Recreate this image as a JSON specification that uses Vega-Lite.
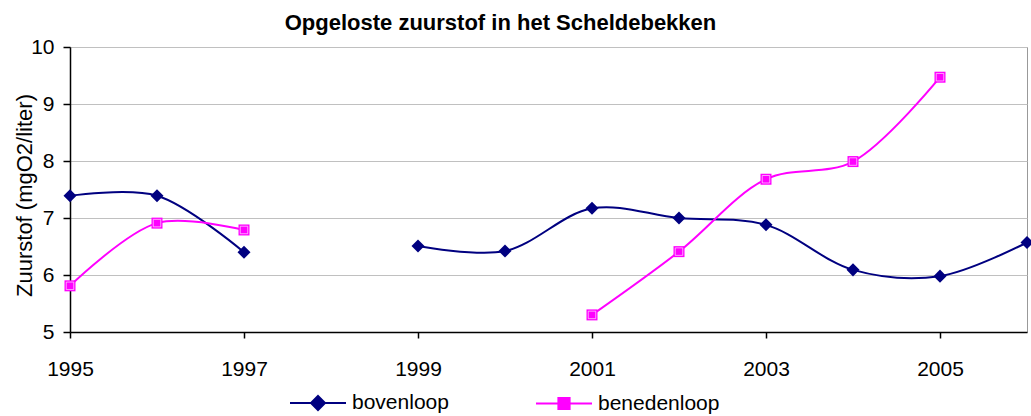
{
  "$schema": "https://vega.github.io/schema/vega-lite/v6.json",
  "width": 957,
  "height": 285,
  "autosize": "none",
  "padding": {"left": 70, "top": 47, "right": 4, "bottom": 84},
  "background": "white",
  "config": {
    "font": "Liberation Sans",
    "view": {"stroke": "#999999", "strokeWidth": 1}
  },
  "title": {
    "text": "Opgeloste zuurstof in het Scheldebekken",
    "fontSize": 22,
    "fontWeight": "bold",
    "font": "Liberation Sans",
    "color": "black",
    "anchor": "middle",
    "frame": "group",
    "dx": -48,
    "baseline": "alphabetic",
    "offset": -16
  },
  "data": {
    "values": [
      {"year": 1995, "value": 7.39, "series": "bovenloop", "seg": "b1"},
      {"year": 1996, "value": 7.39, "series": "bovenloop", "seg": "b1"},
      {"year": 1997, "value": 6.40, "series": "bovenloop", "seg": "b1"},
      {"year": 1999, "value": 6.51, "series": "bovenloop", "seg": "b2"},
      {"year": 2000, "value": 6.42, "series": "bovenloop", "seg": "b2"},
      {"year": 2001, "value": 7.17, "series": "bovenloop", "seg": "b2"},
      {"year": 2002, "value": 7.00, "series": "bovenloop", "seg": "b2"},
      {"year": 2003, "value": 6.88, "series": "bovenloop", "seg": "b2"},
      {"year": 2004, "value": 6.09, "series": "bovenloop", "seg": "b2"},
      {"year": 2005, "value": 5.98, "series": "bovenloop", "seg": "b2"},
      {"year": 2006, "value": 6.57, "series": "bovenloop", "seg": "b2"},
      {"year": 1995, "value": 5.81, "series": "benedenloop", "seg": "d1"},
      {"year": 1996, "value": 6.91, "series": "benedenloop", "seg": "d1"},
      {"year": 1997, "value": 6.79, "series": "benedenloop", "seg": "d1"},
      {"year": 2001, "value": 5.30, "series": "benedenloop", "seg": "d2"},
      {"year": 2002, "value": 6.41, "series": "benedenloop", "seg": "d2"},
      {"year": 2003, "value": 7.68, "series": "benedenloop", "seg": "d2"},
      {"year": 2004, "value": 7.99, "series": "benedenloop", "seg": "d2"},
      {"year": 2005, "value": 9.47, "series": "benedenloop", "seg": "d2"}
    ]
  },
  "encoding": {
    "x": {
      "field": "year",
      "type": "quantitative",
      "scale": {"domain": [1995, 2006], "nice": false, "zero": false},
      "axis": {
        "values": [1995, 1997, 1999, 2001, 2003, 2005],
        "format": "d",
        "grid": false,
        "title": null,
        "domainColor": "black",
        "domainWidth": 1.5,
        "tickColor": "black",
        "tickWidth": 1.5,
        "tickSize": 6,
        "labelFontSize": 21,
        "labelColor": "black",
        "labelPadding": 20,
        "labelFlush": false
      }
    },
    "y": {
      "field": "value",
      "type": "quantitative",
      "scale": {"domain": [5, 10], "nice": false, "zero": false},
      "axis": {
        "values": [5, 6, 7, 8, 9, 10],
        "grid": true,
        "gridColor": "#c0c0c0",
        "gridWidth": 1,
        "domainColor": "black",
        "domainWidth": 1.5,
        "tickColor": "black",
        "tickWidth": 1.5,
        "tickSize": 7,
        "labelFontSize": 21,
        "labelColor": "black",
        "labelPadding": 9,
        "title": "Zuurstof (mgO2/liter)",
        "titleFontSize": 22,
        "titleFontWeight": "normal",
        "titleColor": "black",
        "titleAngle": -90,
        "titleX": -46,
        "titleY": 148,
        "titleAlign": "center",
        "titleBaseline": "middle"
      }
    },
    "color": {
      "field": "series",
      "type": "nominal",
      "scale": {"domain": ["bovenloop", "benedenloop"], "range": ["#000080", "#ff00ff"]},
      "legend": {
        "title": null,
        "orient": "none",
        "legendX": 219,
        "legendY": 327,
        "direction": "horizontal",
        "padding": 0,
        "symbolSize": 3136,
        "symbolType": "M-1,0H1M0,-0.25L0.25,0L0,0.25L-0.25,0Z",
        "symbolStrokeWidth": 2,
        "labelFontSize": 21,
        "labelColor": "black",
        "labelOffset": 5,
        "columnPadding": 83,
        "encode": {
          "symbols": {
            "update": {
              "shape": {"signal": "datum.value == 'bovenloop' ? 'M-1,0H1M0,-0.25L0.25,0L0,0.25L-0.25,0Z' : 'M-1,0H1M-0.2,-0.2H0.2V0.2H-0.2Z'"},
              "fill": {"signal": "datum.value == 'bovenloop' ? '#000080' : '#ff00ff'"},
              "stroke": {"signal": "datum.value == 'bovenloop' ? '#000080' : '#ff00ff'"},
              "strokeWidth": {"value": 2},
              "opacity": {"value": 1},
              "fillOpacity": {"value": 1}
            }
          }
        }
      }
    }
  },
  "layer": [
    {
      "mark": {"type": "line", "interpolate": "catmull-rom", "strokeWidth": 2},
      "encoding": {"detail": {"field": "seg", "type": "nominal"}}
    },
    {
      "transform": [{"filter": "datum.series == 'bovenloop'"}],
      "mark": {"type": "point", "filled": true, "opacity": 1, "shape": "diamond", "size": 170}
    },
    {
      "transform": [{"filter": "datum.series == 'benedenloop'"}],
      "mark": {"type": "point", "filled": true, "opacity": 1, "shape": "square", "size": 121}
    },
    {
      "transform": [{"filter": "datum.series == 'benedenloop'"}],
      "mark": {"type": "point", "filled": false, "shape": "square", "size": 56, "stroke": "#ffffff", "strokeWidth": 1, "strokeOpacity": 0.6, "opacity": 1}
    }
  ]
}
